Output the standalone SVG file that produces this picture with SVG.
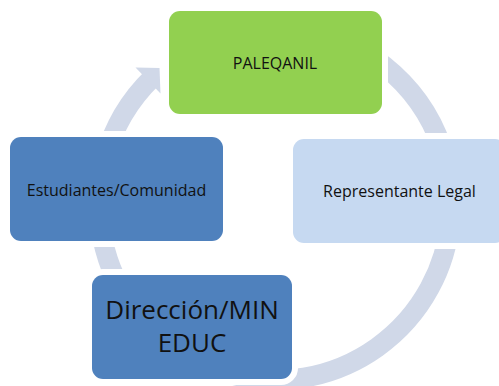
<svg xmlns="http://www.w3.org/2000/svg" width="499" height="386" viewBox="0 0 499 386">
<style>
.ring{fill:none;stroke:#D0D8E8;stroke-width:20;stroke-linecap:butt}
.head{fill:#D0D8E8;stroke:none}
.box{stroke:#FFFFFF;stroke-width:12;paint-order:stroke}
.green{fill:#92D050}
.blue{fill:#4F81BD}
.light{fill:#C6D9F1}
.t{font-family:"Open Sans","Noto Sans","Liberation Sans",sans-serif;fill:#111111;text-anchor:middle}
.s{font-size:16px}
.b{font-size:26px}
</style>
<rect width="499" height="386" fill="#FFFFFF"/>
<g id="connectors">
<path class="ring" d="M305.6,30.7 A176,176 0 0 1 445.0,158.4"/>
<path class="ring" d="M450.3,219.3 A176,176 0 0 1 232.4,374.8"/>
<path class="ring" d="M140.2,317.1 A176,176 0 0 1 101.7,173.4"/>
<path class="ring" d="M105.0,158.4 A176,176 0 0 1 152.7,77.4"/>
<polygon class="head" points="135.5,67.5 159.5,68 160.5,93.5"/>
</g>
<g id="paleqanil">
<rect class="box green" x="169" y="11" width="213" height="103" rx="11"/>
<text class="t s" x="275" y="69">PALEQANIL</text>
</g>
<g id="representante">
<rect class="box light" x="293" y="139" width="213" height="104" rx="11"/>
<text class="t s" x="399.5" y="197">Representante Legal</text>
</g>
<g id="estudiantes">
<rect class="box blue" x="10" y="137" width="213" height="104" rx="11"/>
<text class="t s" x="116.5" y="196">Estudiantes/Comunidad</text>
</g>
<g id="direccion">
<rect class="box blue" x="92" y="275" width="200" height="104" rx="11"/>
<text class="t b" x="192" y="319">Dirección/MIN</text>
<text class="t b" x="192" y="352">EDUC</text>
</g>
</svg>
